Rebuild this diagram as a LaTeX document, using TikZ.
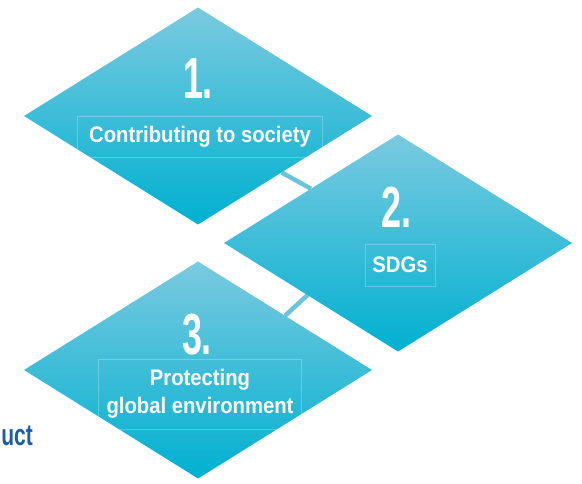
\documentclass[tikz,border=0pt]{standalone}
\usepackage{fontspec}
\setmainfont{Liberation Sans}
\newfontfamily\numfont[FakeStretch=0.62]{Liberation Sans}
\newfontfamily\capfont[FakeStretch=0.9]{Liberation Sans}
\newfontfamily\cutfont[FakeStretch=0.7]{Liberation Sans}
\usetikzlibrary{shapes.geometric,calc,backgrounds}

\definecolor{tealtop}{RGB}{122,202,224}
\definecolor{tealbot}{RGB}{0,176,208}
\definecolor{tealline}{RGB}{108,196,218}
\definecolor{darkblue}{RGB}{27,94,168}

\tikzset{
  rhomb/.style={
    % The shape:
    shape=diamond,inner sep=0pt,outer sep=0pt,
    % The size:
    minimum width=348pt,minimum height=217pt,
    % The filling:
    top color=tealtop, % lighter at the top...
    bottom color=tealbot % and deeper cyan at the bottom
  },
  numtext/.style={
    text=white,inner sep=0pt,anchor=base,
    font=\numfont\bfseries\fontsize{58}{58}\selectfont
  },
  labeltext/.style={
    text=white,inner sep=0pt,align=center,
    font=\capfont\bfseries\fontsize{22.5}{28}\selectfont,
    % a faint frame round the text
    draw=white,draw opacity=0.25,thin
  },
  link/.style={draw=tealline,line width=4.5pt}
}

\begin{document}
\begin{tikzpicture}[x=1pt,y=-1pt]
	\useasboundingbox (0,0) rectangle (582,484);
	% the three diamonds
	\node[rhomb] (d1) at (198,116) {};
	\node[rhomb] (d2) at (398,243) {};
	\node[rhomb] (d3) at (198,370) {};
	% numbers
	\node[numtext] (n1) at (198,99) {1.};
	\node[numtext] (n2) at (396,228) {2.};
	\node[numtext] (n3) at (197,355) {3.};
	% texts
	\node[labeltext,minimum width=245pt,minimum height=41pt] (t1) at (200,137) {Contributing to society};
	\node[labeltext,minimum width=70pt,minimum height=42pt] (t2) at (400,265) {SDGs};
	\node[labeltext,minimum width=203pt,minimum height=70pt] (t3) at (200,394) {Protecting\\global environment};
	\node[text=darkblue,inner sep=0pt,anchor=base east,
	  font=\cutfont\bfseries\fontsize{30}{30}\selectfont] (cut) at (33,445) {uct};
	% links behind the diamonds
	\begin{scope}[on background layer]
		\draw[link] ($(d1.east)!0.52!(d1.south)$) -- ($(d2.west)!0.5!(d2.north)$);
		\draw[link] ($(d2.west)!0.48!(d2.south)$) -- ($(d3.north)!0.5!(d3.east)$);
	\end{scope}
\end{tikzpicture}
\end{document}
